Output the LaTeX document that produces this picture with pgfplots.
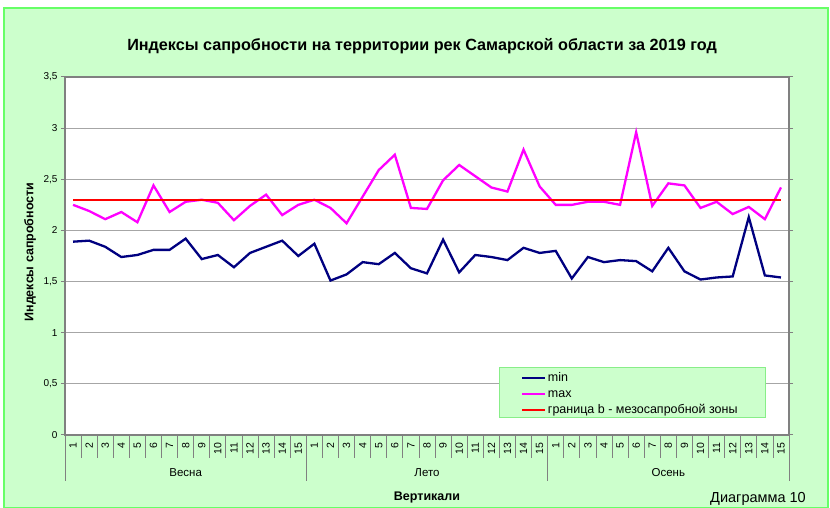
\documentclass[border=0pt]{standalone}
\usepackage{pgfplots}
\pgfplotsset{compat=1.18}
\usepackage{pgfplotstable}
\usepackage{fontspec}
\setmainfont{Liberation Sans}
\definecolor{bggreen}{HTML}{CCFFCC}
\definecolor{edgegreen}{HTML}{66FF66}
\definecolor{leggreen}{HTML}{88EE88}
\definecolor{navyline}{HTML}{000080}
\definecolor{magline}{HTML}{FF00FF}
\definecolor{gridgray}{HTML}{A6A6A6}
\definecolor{axgray}{HTML}{808080}

\pgfplotstableread{
x min max
1 1.89 2.25
2 1.90 2.19
3 1.84 2.11
4 1.74 2.18
5 1.76 2.08
6 1.81 2.44
7 1.81 2.18
8 1.92 2.28
9 1.72 2.30
10 1.76 2.27
11 1.64 2.10
12 1.78 2.24
13 1.84 2.35
14 1.90 2.15
15 1.75 2.25
16 1.87 2.30
17 1.51 2.22
18 1.57 2.07
19 1.69 2.33
20 1.67 2.59
21 1.78 2.74
22 1.63 2.22
23 1.58 2.21
24 1.91 2.49
25 1.59 2.64
26 1.76 2.53
27 1.74 2.42
28 1.71 2.38
29 1.83 2.79
30 1.78 2.43
31 1.80 2.25
32 1.53 2.25
33 1.74 2.28
34 1.69 2.28
35 1.71 2.25
36 1.70 2.96
37 1.60 2.24
38 1.83 2.46
39 1.60 2.44
40 1.52 2.22
41 1.54 2.28
42 1.55 2.16
43 2.13 2.23
44 1.56 2.11
45 1.54 2.42
}\datatable

\begin{document}
\begin{tikzpicture}
\path[use as bounding box] (0pt,0pt) rectangle (830pt,508pt);
\fill[white] (0pt,0pt) rectangle (830pt,508pt);
\filldraw[fill=bggreen, draw=edgegreen, line width=1.2pt] (4pt,0.6pt) rectangle (828pt,500pt);
\node[font=\bfseries\fontsize{16.2}{19}\selectfont] at (422pt,462pt) {Индексы сапробности на территории рек Самарской области за 2019 год};
\begin{axis}[
  at={(65pt,73pt)}, anchor=south west,
  scale only axis, width=724pt, height=358pt,
  xmin=0.5, xmax=45.5, ymin=0, ymax=3.5,
  axis background/.style={fill=white},
  axis line style={axgray, line width=1.5pt},
  ymajorgrids, grid style={gridgray, line width=1.2pt},
  ytick={0,0.5,1,1.5,2,2.5,3,3.5},
  yticklabel style={/pgf/number format/use comma, /pgf/number format/assume math mode=true, font=\fontsize{10}{12}\selectfont},
  tick align=outside, major tick length=4pt,
  ytick style={axgray, line width=1pt},
  xtick={1,...,45},
  xticklabels={1,2,3,4,5,6,7,8,9,10,11,12,13,14,15,1,2,3,4,5,6,7,8,9,10,11,12,13,14,15,1,2,3,4,5,6,7,8,9,10,11,12,13,14,15},
  xtick style={draw=none},
  xticklabel style={font=\fontsize{10.5}{12}\selectfont, rotate=90, anchor=east},
  legend cell align=left,
  legend image code/.code={\draw[#1] (0pt,0pt) -- (23pt,0pt);},
  legend style={at={(rel axis cs:0.6298,0.182)}, anchor=north west, draw=none, fill=none, inner sep=0pt,
    font=\fontsize{12.5}{14}\selectfont, nodes={inner sep=1.5pt, text height=10pt, text depth=3pt}},
]
\draw[fill=bggreen, draw=leggreen, line width=1pt] (rel axis cs:0.6008,0.1872) rectangle (rel axis cs:0.9682,0.0475);
\addplot[navyline, line width=2.3pt] table[x=x, y=min] {\datatable};
\addlegendentry{min}
\addplot[magline, line width=2.3pt] table[x=x, y=max] {\datatable};
\addlegendentry{max}
\addplot[red, line width=2.3pt] coordinates {(1,2.3) (45,2.3)};
\addlegendentry{граница b - мезосапробной зоны}
\end{axis}
\foreach \k in {0,...,45} \draw[axgray, line width=0.8pt] ({(65+724/45*\k)*1pt},73pt) -- ++(0pt,-23pt);
\foreach \k in {0,15,30,45} \draw[axgray, line width=0.8pt] ({(65+724/45*\k)*1pt},73pt) -- ++(0pt,-46pt);
\node[font=\fontsize{11.5}{13}\selectfont] at (185.7pt,35pt) {Весна};
\node[font=\fontsize{11.5}{13}\selectfont] at (427pt,35pt) {Лето};
\node[font=\fontsize{11.5}{13}\selectfont] at (668.3pt,35pt) {Осень};
\node[font=\bfseries\fontsize{12.5}{14}\selectfont] at (427pt,11pt) {Вертикали};
\node[font=\fontsize{14.5}{16}\selectfont] at (758pt,9pt) {Диаграмма 10};
\node[font=\bfseries\fontsize{12.5}{14}\selectfont, rotate=90] at (30pt,256pt) {Индексы сапробности};
\end{tikzpicture}
\end{document}
